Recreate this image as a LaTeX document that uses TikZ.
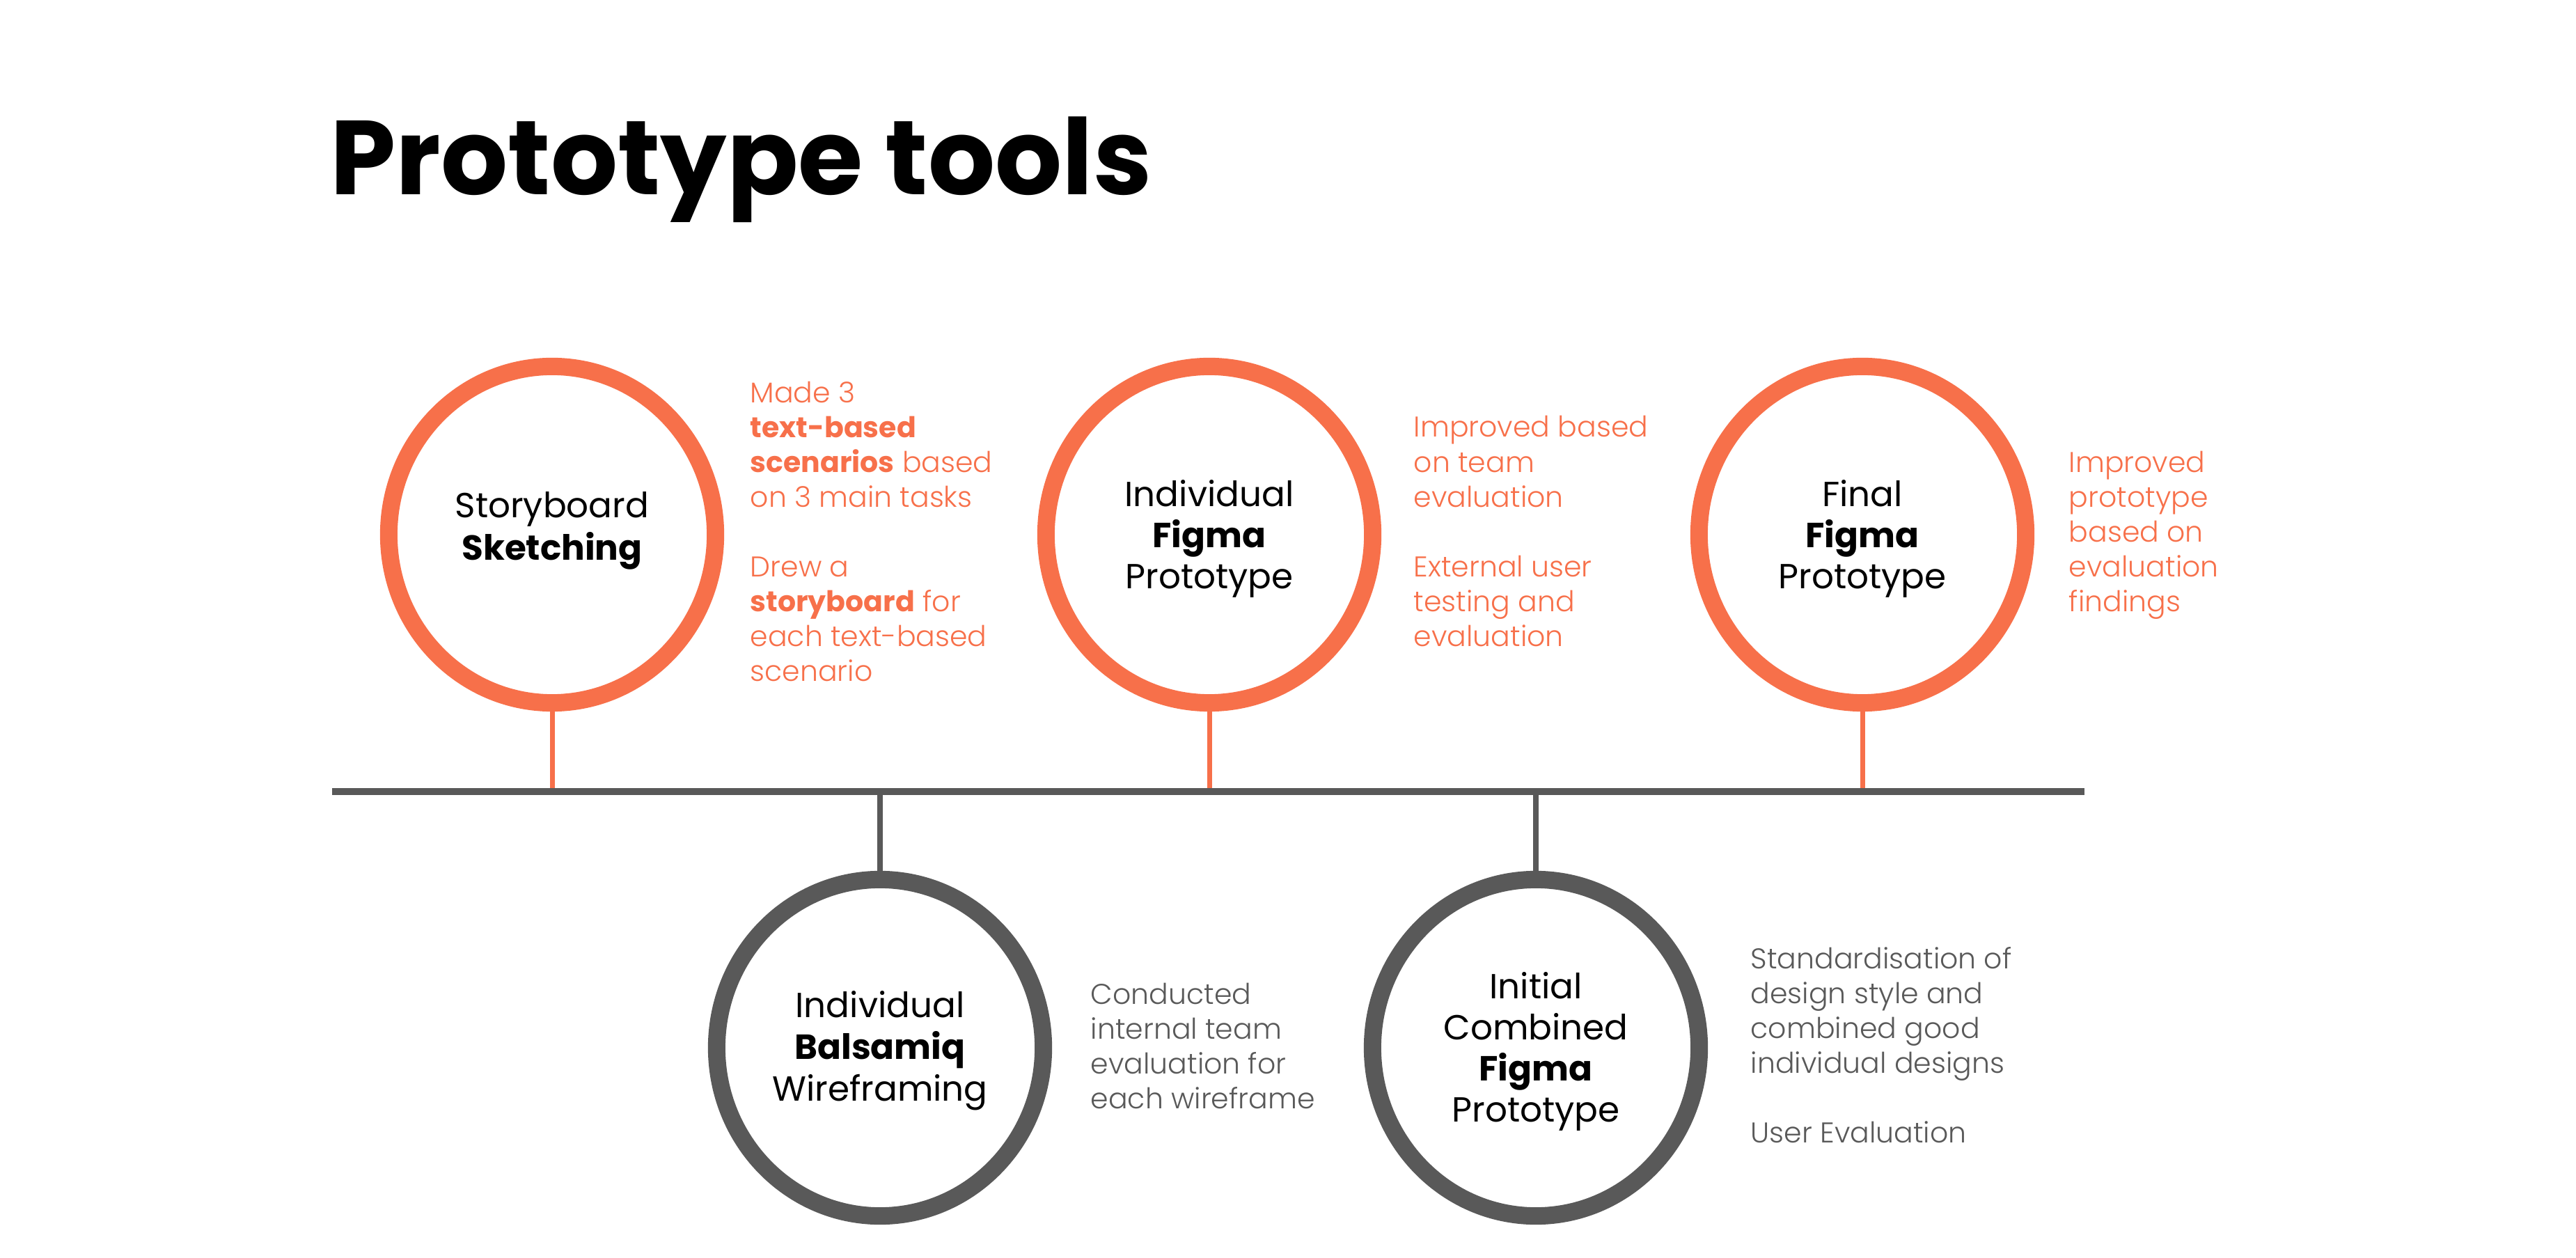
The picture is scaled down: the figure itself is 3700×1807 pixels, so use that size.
\documentclass[tikz,border=0pt]{standalone}
\usepackage{fontspec}
\setmainfont{Poppins}
\newfontfamily\poplight{Poppins Light}
\newfontfamily\popbold{Poppins Bold}
\usetikzlibrary{shapes.geometric}
\definecolor{accent}{HTML}{F7704A}
\definecolor{slate}{HTML}{595959}
\newcommand\clines[2]{\vtop{\baselineskip=#1\lineskiplimit=-100cm\lineskip=0pt\halign{\hfil##\hfil\cr#2\crcr}}}
\newcommand\llines[2]{\vtop{\baselineskip=#1\lineskiplimit=-100cm\lineskip=0pt\halign{##\hfil\cr#2\crcr}}}
\newcommand\hb[1]{{\popbold #1}}
\tikzset{
  ring/.style={ellipse, line width=0.25cm, fill=white, minimum width=4.69cm, minimum height=4.83cm, inner sep=0pt},
  topring/.style={ring, draw=accent},
  botring/.style={ring, draw=slate},
  ctext/.style={anchor=base, inner sep=0pt, text=black, font=\fontsize{0.5cm}{0.6cm}\selectfont},
  side/.style={anchor=base west, inner sep=0pt, font=\poplight\fontsize{0.41cm}{0.5cm}\selectfont},
  ostem/.style={draw=accent, line width=0.07cm},
  gstem/.style={draw=slate, line width=0.08cm},
  tline/.style={draw=slate, line width=0.1cm}
}
\begin{document}
\begin{tikzpicture}[x=0.01cm, y=-0.01cm]
\useasboundingbox (0,0) rectangle (3700,1807);
% title
\node[anchor=base west, inner sep=0pt, font=\bfseries\fontsize{1.51cm}{1.8cm}\selectfont] (title) at (474,280) {Prototype tools};
% rings
\node[topring] (c1) at (793,768) {};
\node[botring] (c2) at (1264,1505) {};
\node[topring] (c3) at (1737,768) {};
\node[botring] (c4) at (2206,1505) {};
\node[topring] (c5) at (2675,768) {};
% timeline
\coordinate (tlL) at (477,1137);
\coordinate (tlR) at (2994,1137);
\draw[ostem] (c1.south) -- (c1.south |- tlL);
\draw[ostem] (c3.south) -- (c3.south |- tlL);
\draw[ostem] (c5.south) -- (c5.south |- tlL);
\draw[gstem] (c2.north) -- (c2.north |- tlL);
\draw[gstem] (c4.north) -- (c4.north |- tlL);
\draw[tline] (tlL) -- (tlR);
% circle texts
\node[ctext] (c1t) at (793,744) {\clines{0.6cm}{Storyboard\cr\textbf{Sketching}}};
\node[ctext] (c2t) at (1264,1461) {\clines{0.6cm}{Individual\cr\textbf{Balsamiq}\cr Wireframing}};
\node[ctext] (c3t) at (1737,727.5) {\clines{0.59cm}{Individual\cr\textbf{Figma}\cr Prototype}};
\node[ctext] (c4t) at (2206,1434) {\clines{0.59cm}{Initial\cr Combined\cr\textbf{Figma}\cr Prototype}};
\node[ctext] (c5t) at (2675,727.5) {\clines{0.59cm}{Final\cr\textbf{Figma}\cr Prototype}};
% side texts
\node[side, text=accent] (s1) at (1077,578.6) {\llines{0.5cm}{Made 3\cr\hb{text-based}\cr\hb{scenarios} based\cr on 3 main tasks\cr\cr Drew a\cr\hb{storyboard} for\cr each text-based\cr scenario}};
\node[side, text=slate] (s2) at (1566,1442) {\llines{0.5cm}{Conducted\cr internal team\cr evaluation for\cr each wireframe}};
\node[side, text=accent] (s3) at (2030,628) {\llines{0.5cm}{Improved based\cr on team\cr evaluation\cr\cr External user\cr testing and\cr evaluation}};
\node[side, text=slate] (s4) at (2514,1391) {\llines{0.5cm}{Standardisation of\cr design style and\cr combined good\cr individual designs\cr\cr User Evaluation}};
\node[side, text=accent] (s5) at (2971,678.6) {\llines{0.5cm}{Improved\cr prototype\cr based on\cr evaluation\cr findings}};
\end{tikzpicture}
\end{document}
